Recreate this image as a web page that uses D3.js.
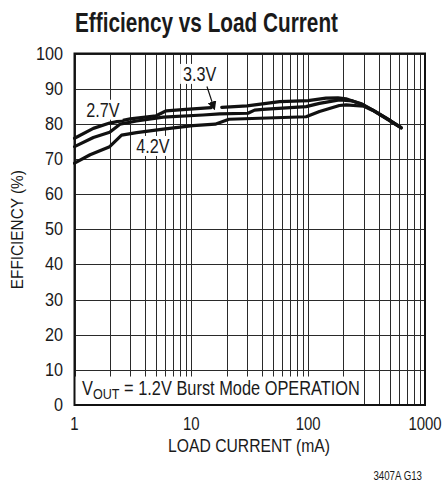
<!DOCTYPE html>
<html lang="en">
<head>
  <meta charset="UTF-8">
  <title>Efficiency vs Load Current</title>
  <script src="https://d3js.org/d3.v7.min.js"></script>
  <style type="text/css">
    body { margin: 0; background: #fff; }
    text {
      font-family: "Liberation Sans", Arial, sans-serif;
      fill: #1a1a1a;
    }
    .grid line { stroke: #2a2a2a; stroke-width: 1; shape-rendering: crispEdges; }
    .grid path { display: none; }
    .curve { fill: none; stroke: #111; stroke-width: 3.2; stroke-linejoin: round; stroke-linecap: round; }
  </style>
</head>
<body>
<div id="chart-container"></div>
<script>
// load current (mA) and efficiency (%)
const load27 = [1, 1.45, 2, 3, 5, 6.1, 9, 14.8, 16.5, 18.2, 30, 57, 100, 142, 180, 211, 275, 358, 466, 625];
const eff27  = [75.9, 78.7, 80.2, 81.4, 82.3, 83.7, 84.1, 84.6, null, 84.7, 85.1, 86.3, 86.6, 87.3, 87.4, 87.1, 85.8, 83.9, 81.6, 78.9];

const load33 = [1, 1.45, 2, 2.45, 3.4, 5.75, 12.6, 17.5, 30.5, 34.8, 41, 96, 125, 185, 240, 290, 358, 466, 625];
const eff33  = [73.5, 76.1, 77.6, 79.9, 80.8, 81.9, 82.5, 82.8, 83.0, 83.9, 84.1, 84.9, 85.8, 86.8, 86.5, 85.6, 83.9, 81.6, 78.9];

const load42 = [1, 1.36, 2, 2.53, 3.4, 5.75, 10.3, 16, 21, 96, 125, 185, 211, 300, 358, 466, 625];
const eff42  = [68.8, 71.2, 73.5, 76.8, 77.5, 78.5, 79.5, 79.9, 81.3, 82.0, 83.5, 85.2, 85.4, 85.0, 83.8, 81.5, 78.8];

const yTicks = [0, 10, 20, 30, 40, 50, 60, 70, 80, 90, 100];
const xLabels = [1, 10, 100, 1000];

const series = [
  { name: "2.7V", load: load27, eff: eff27 },
  { name: "3.3V", load: load33, eff: eff33 },
  { name: "4.2V", load: load42, eff: eff42 }
];

const W = 443, H = 485;
const margin = { left: 74.5, top: 53.5, right: 18, bottom: 80 };
const w = W - margin.left - margin.right;
const h = H - margin.top - margin.bottom;

const svg = d3.select("#chart-container")
  .append("svg")
  .attr("width", W)
  .attr("height", H);

const g = svg.append("g").attr("transform", `translate(${margin.left},${margin.top})`);

const x = d3.scaleLog().domain([1, 1000]).range([0, w]);
const y = d3.scaleLinear().domain([0, 100]).range([h, 0]);

// narrow the text the way the condensed face in the original does
function squeeze(sel, k) {
  sel.each(function () {
    const len = this.getComputedTextLength();
    d3.select(this).attr("textLength", len * k).attr("lengthAdjust", "spacingAndGlyphs");
  });
}

// minor decade ticks for the grid
const gridX = [];
for (let dec = 1; dec < 1000; dec *= 10) {
  for (let k = 1; k < 10; k++) gridX.push(dec * k);
}
gridX.push(1000);

g.append("g")
  .attr("class", "grid")
  .attr("transform", `translate(0,${h})`)
  .call(d3.axisBottom(x).tickValues(gridX).tickSize(-h).tickFormat(""));

g.append("g")
  .attr("class", "grid")
  .call(d3.axisLeft(y).tickValues(yTicks).tickSize(-w).tickFormat(""));

// curves
const line = d3.line()
  .defined(d => d[1] !== null)
  .x(d => x(d[0]))
  .y(d => y(d[1]));

g.selectAll(".curve")
  .data(series)
  .enter()
  .append("path")
  .attr("class", "curve")
  .attr("d", s => line(s.load.map((v, i) => [v, s.eff[i]])));

// labels with white boxes
function boxedLabel(txt, cx, cy) {
  const grp = g.append("g");
  const r = grp.append("rect").attr("fill", "#fff");
  const t = grp.append("text")
    .attr("x", cx).attr("y", cy)
    .attr("text-anchor", "middle")
    .attr("dominant-baseline", "central")
    .style("font-size", "19.5px")
    .text(txt);
  squeeze(t, 0.83);
  const b = t.node().getBBox();
  r.attr("x", b.x - 3).attr("y", b.y + 1).attr("width", b.width + 6).attr("height", b.height - 2);
  return grp;
}

boxedLabel("2.7V", x(1.75), y(84));
boxedLabel("3.3V", x(11.8), y(94.2));
boxedLabel("4.2V", x(4.7), y(73.7));

// arrow for 3.3V
const defs = svg.append("defs");
defs.append("marker")
  .attr("id", "arrow")
  .attr("viewBox", "0 0 10 10")
  .attr("refX", 9).attr("refY", 5)
  .attr("markerWidth", 9).attr("markerHeight", 9)
  .attr("markerUnits", "userSpaceOnUse")
  .attr("orient", "auto")
  .append("path")
  .attr("d", "M0,0 L10,5 L0,10 Z")
  .attr("fill", "#111");

g.append("line")
  .attr("x1", x(13.6)).attr("y1", y(90.6))
  .attr("x2", x(15.8)).attr("y2", y(84.1))
  .attr("stroke", "#111").attr("stroke-width", 1.2)
  .attr("marker-end", "url(#arrow)");

// operating condition box
const cond = g.append("g");
cond.append("rect")
  .attr("x", 0).attr("y", y(8.1))
  .attr("width", x(300)).attr("height", h - y(8.1))
  .attr("fill", "#fff");
const ct = cond.append("text")
  .attr("transform", `translate(7.5,${y(2.9)}) scale(0.84,1)`)
  .style("font-size", "19.5px");
ct.append("tspan").text("V");
ct.append("tspan").attr("dy", 4).style("font-size", "15px").text("OUT");
ct.append("tspan").attr("dy", -4).text(" = 1.2V Burst Mode OPERATION");

// frame
g.append("rect")
  .attr("x", 0).attr("y", 0).attr("width", w).attr("height", h)
  .attr("fill", "none").attr("stroke", "#111").attr("stroke-width", 2);

// tick labels
const ylab = g.selectAll(".ylab")
  .data(yTicks)
  .enter()
  .append("text")
  .attr("class", "ylab")
  .attr("x", -11.5)
  .attr("y", d => y(d))
  .attr("text-anchor", "end")
  .attr("dominant-baseline", "central")
  .style("font-size", "18px")
  .text(d => d);
squeeze(ylab, 0.9);

g.selectAll(".xlab")
  .data(xLabels)
  .enter()
  .append("text")
  .attr("class", "xlab")
  .attr("transform", d => `translate(${x(d)},${h + 25}) scale(0.83,1)`)
  .attr("text-anchor", "middle")
  .style("font-size", "18px")
  .text(d => d);

// axis titles
g.append("text")
  .attr("x", 249 - margin.left)
  .attr("y", h + 47)
  .attr("text-anchor", "middle")
  .style("font-size", "18px")
  .attr("textLength", 162)
  .attr("lengthAdjust", "spacingAndGlyphs")
  .text("LOAD CURRENT (mA)");

svg.append("text")
  .attr("transform", "translate(23,229.7) rotate(-90)")
  .attr("text-anchor", "middle")
  .style("font-size", "16.5px")
  .attr("textLength", 119)
  .attr("lengthAdjust", "spacingAndGlyphs")
  .text("EFFICIENCY (%)");

svg.append("text")
  .attr("x", 75)
  .attr("y", 31.5)
  .style("font-size", "28px")
  .style("font-weight", "bold")
  .attr("textLength", 263)
  .attr("lengthAdjust", "spacingAndGlyphs")
  .text("Efficiency vs Load Current");

svg.append("text")
  .attr("transform", "translate(422,480) scale(0.72,1)")
  .attr("text-anchor", "end")
  .style("font-size", "13.5px")
  .text("3407A G13");
</script>
</body>
</html>
